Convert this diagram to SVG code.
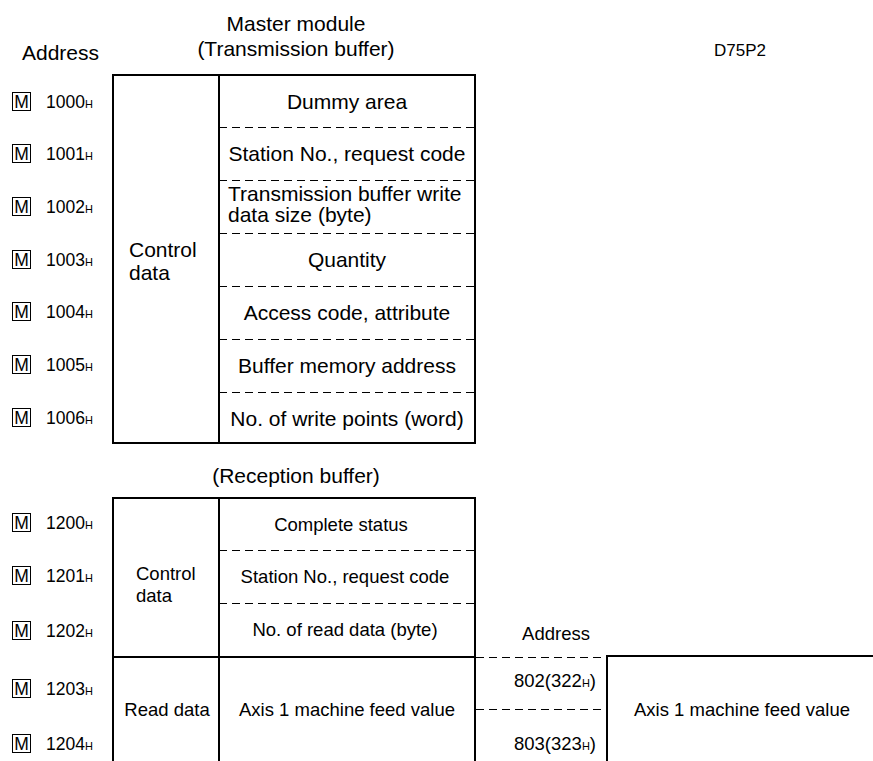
<svg xmlns="http://www.w3.org/2000/svg" width="873" height="761" viewBox="0 0 873 761">
<style>
text{font-family:"Liberation Sans",Arial,sans-serif;fill:#000}
.t21{font-size:21px}
.t18{font-size:18.5px}
.lbl{font-size:17.5px}
.sub{font-size:11px}
.m{font-size:17.5px;text-anchor:middle}
.c{text-anchor:middle}
.r{text-anchor:end}
.solid{stroke:#000;stroke-width:2;fill:none}
.dash{stroke:#000;stroke-width:1;stroke-dasharray:8,5;fill:none}
.mbox{stroke:#000;stroke-width:1;fill:none}
</style>
<rect width="873" height="761" fill="#fff"/>
<g id="headings">
<text class="t21 c" x="296" y="31">Master module</text>
<text class="t21 c" x="296" y="56">(Transmission buffer)</text>
<text class="t21" x="22" y="60">Address</text>
<text class="c" style="font-size:17px" x="740" y="56">D75P2</text>
<text class="t21 c" x="296" y="483">(Reception buffer)</text>
<text class="t18 c" x="556" y="640">Address</text>
</g>
<g id="addresses">
<g id="a1000"><rect class="mbox" x="12.5" y="92.5" width="18" height="18"/><text class="m" x="21.5" y="108">M</text><text class="lbl" x="46" y="108">1000<tspan class="sub">H</tspan></text></g>
<g id="a1001"><rect class="mbox" x="12.5" y="144.5" width="18" height="18"/><text class="m" x="21.5" y="160">M</text><text class="lbl" x="46" y="160">1001<tspan class="sub">H</tspan></text></g>
<g id="a1002"><rect class="mbox" x="12.5" y="197.5" width="18" height="18"/><text class="m" x="21.5" y="213">M</text><text class="lbl" x="46" y="213">1002<tspan class="sub">H</tspan></text></g>
<g id="a1003"><rect class="mbox" x="12.5" y="250.5" width="18" height="18"/><text class="m" x="21.5" y="266">M</text><text class="lbl" x="46" y="266">1003<tspan class="sub">H</tspan></text></g>
<g id="a1004"><rect class="mbox" x="12.5" y="302.5" width="18" height="18"/><text class="m" x="21.5" y="318">M</text><text class="lbl" x="46" y="318">1004<tspan class="sub">H</tspan></text></g>
<g id="a1005"><rect class="mbox" x="12.5" y="355.5" width="18" height="18"/><text class="m" x="21.5" y="371">M</text><text class="lbl" x="46" y="371">1005<tspan class="sub">H</tspan></text></g>
<g id="a1006"><rect class="mbox" x="12.5" y="408.5" width="18" height="18"/><text class="m" x="21.5" y="424">M</text><text class="lbl" x="46" y="424">1006<tspan class="sub">H</tspan></text></g>
<g id="a1200"><rect class="mbox" x="12.5" y="513.5" width="18" height="18"/><text class="m" x="21.5" y="529">M</text><text class="lbl" x="46" y="529">1200<tspan class="sub">H</tspan></text></g>
<g id="a1201"><rect class="mbox" x="12.5" y="566.5" width="18" height="18"/><text class="m" x="21.5" y="582">M</text><text class="lbl" x="46" y="582">1201<tspan class="sub">H</tspan></text></g>
<g id="a1202"><rect class="mbox" x="12.5" y="621.5" width="18" height="18"/><text class="m" x="21.5" y="637">M</text><text class="lbl" x="46" y="637">1202<tspan class="sub">H</tspan></text></g>
<g id="a1203"><rect class="mbox" x="12.5" y="679.5" width="18" height="18"/><text class="m" x="21.5" y="695">M</text><text class="lbl" x="46" y="695">1203<tspan class="sub">H</tspan></text></g>
<g id="a1204"><rect class="mbox" x="12.5" y="734.5" width="18" height="18"/><text class="m" x="21.5" y="750">M</text><text class="lbl" x="46" y="750">1204<tspan class="sub">H</tspan></text></g>
</g>
<g id="transmission-buffer">
<rect class="solid" x="113" y="75" width="362" height="368"/>
<line class="solid" x1="219" y1="75" x2="219" y2="443"/>
<line class="dash" x1="219" y1="127.5" x2="475" y2="127.5"/>
<line class="dash" x1="219" y1="180.5" x2="475" y2="180.5"/>
<line class="dash" x1="219" y1="233.5" x2="475" y2="233.5"/>
<line class="dash" x1="219" y1="286.5" x2="475" y2="286.5"/>
<line class="dash" x1="219" y1="339.5" x2="475" y2="339.5"/>
<line class="dash" x1="219" y1="392.5" x2="475" y2="392.5"/>
<text class="t21" x="129" y="257">Control</text>
<text class="t21" x="129" y="280">data</text>
<text class="t21 c" x="347" y="109">Dummy area</text>
<text class="t21 c" x="347" y="161">Station No., request code</text>
<text class="t21" x="228" y="201">Transmission buffer write</text>
<text class="t21" x="228" y="222">data size (byte)</text>
<text class="t21 c" x="347" y="267">Quantity</text>
<text class="t21 c" x="347" y="320">Access code, attribute</text>
<text class="t21 c" x="347" y="373">Buffer memory address</text>
<text class="t21 c" x="347" y="426">No. of write points (word)</text>
</g>
<g id="reception-buffer">
<polyline class="solid" points="113,761 113,498 475,498 475,761"/>
<line class="solid" x1="219" y1="498" x2="219" y2="761"/>
<line class="solid" x1="113" y1="657" x2="476" y2="657"/>
<line class="dash" x1="219" y1="550.5" x2="475" y2="550.5"/>
<line class="dash" x1="219" y1="603.5" x2="475" y2="603.5"/>
<text class="t18" x="136" y="580">Control</text>
<text class="t18" x="136" y="602">data</text>
<text class="t18 c" x="341" y="531">Complete status</text>
<text class="t18 c" x="345" y="583">Station No., request code</text>
<text class="t18 c" x="345" y="636">No. of read data (byte)</text>
<text class="t18 c" x="167" y="716">Read data</text>
<text class="t18 c" x="347" y="716">Axis 1 machine feed value</text>
</g>
<g id="d75p2-memory">
<line class="dash" x1="476" y1="657.5" x2="607" y2="657.5"/>
<line class="dash" x1="476" y1="709.5" x2="607" y2="709.5"/>
<polyline class="solid" points="607,761 607,656 873,656"/>
<text class="t18 r" x="596" y="687">802(322<tspan class="sub">H</tspan>)</text>
<text class="t18 r" x="596" y="750">803(323<tspan class="sub">H</tspan>)</text>
<text class="t18 c" x="742" y="716">Axis 1 machine feed value</text>
</g>
</svg>
